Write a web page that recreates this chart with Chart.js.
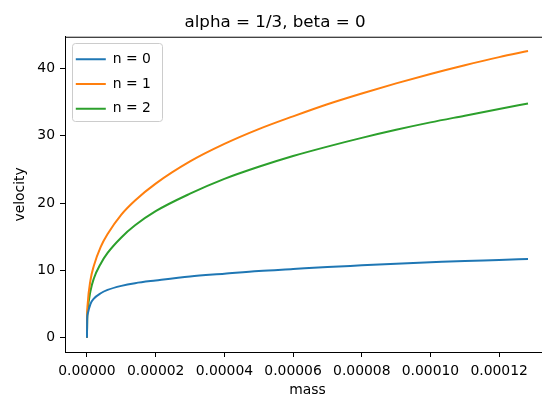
<!DOCTYPE html>
<html>
<head>
<meta charset="utf-8">
<script src="https://cdn.jsdelivr.net/npm/chart.js@4"></script>
<style>
	html, body { margin: 0; padding: 0; background: #fff; overflow: hidden; }
	#wrap { width: 615px; height: 400px; }
</style>
</head>
<body>
<div id="wrap"><canvas id="velocityChart" width="615" height="400"></canvas></div>
<script>
// 그림에서 읽은 값
const mass = [0, 0.00000005, 0.0000002, 0.000001, 0.000002, 0.000004, 0.000006, 0.00001, 0.000014, 0.00002,
	0.00003, 0.00004, 0.00005, 0.00006, 0.00007, 0.00008, 0.00009, 0.0001, 0.00011, 0.00012, 0.0001284];
const velocityN0 = [0, 2.6, 3.5, 5.0, 5.8, 6.6, 7.1, 7.7, 8.1, 8.5,
	9.1, 9.5, 9.9, 10.2, 10.5, 10.75, 11.0, 11.2, 11.4, 11.55, 11.7];
const velocityN1 = [0, 3.2, 5.0, 8.5, 10.7, 13.5, 15.4, 18.3, 20.4, 22.9,
	26.2, 28.8, 31.0, 32.9, 34.7, 36.3, 37.8, 39.2, 40.5, 41.7, 42.6];
const velocityN2 = [0, 2.6, 4.0, 6.9, 8.8, 11.0, 12.6, 14.9, 16.7, 18.8,
	21.4, 23.6, 25.4, 27.0, 28.4, 29.7, 30.9, 32.0, 33.0, 34.0, 34.8];
const seriesLabels = ["n = 0", "n = 1", "n = 2"];
const xTicks = [0, 0.00002, 0.00004, 0.00006, 0.00008, 0.0001, 0.00012];
const yTicks = [0, 10, 20, 30, 40];

const colors = ["#1f77b4", "#ff7f0e", "#2ca02c"];

Chart.defaults.font.family = "'DejaVu Sans', sans-serif";
Chart.defaults.color = "#000";

function toPoints(ys) {
	return mass.map((m, i) => ({x: m, y: ys[i]}));
}

let datasets = [velocityN0, velocityN1, velocityN2].map((ys, i) => ({
	label: seriesLabels[i],
	data: toPoints(ys),
	borderColor: colors[i],
	backgroundColor: colors[i],
	borderWidth: 2,
	pointRadius: 0,
	cubicInterpolationMode: 'monotone',
	fill: false
}));

// 위, 오른쪽 테두리 + 범례 박스
const framePlugin = {
	id: 'frame',
	beforeDraw(chart) {
		const {ctx} = chart;
		const hb = chart.legend.legendHitBoxes;
		if (hb && hb.length) {
			const x0 = hb[0].left - 4;
			const y0 = hb[0].top - 9;
			const x1 = Math.max(...hb.map(h => h.left + h.width)) + 11;
			const y1 = hb[hb.length - 1].top + hb[hb.length - 1].height + 6;
			ctx.save();
			ctx.beginPath();
			ctx.roundRect(Math.round(x0) + 0.5, Math.round(y0) + 0.5, Math.round(x1 - x0), Math.round(y1 - y0), 3);
			ctx.fillStyle = 'rgba(255,255,255,0.8)';
			ctx.fill();
			ctx.strokeStyle = '#cccccc';
			ctx.lineWidth = 1;
			ctx.stroke();
			ctx.restore();
		}
	},
	afterDraw(chart) {
		const {ctx, chartArea: {left, top, right, bottom}} = chart;
		ctx.save();
		ctx.strokeStyle = '#000';
		ctx.lineWidth = 1;
		ctx.beginPath();
		ctx.moveTo(left, top + 0.5);
		ctx.lineTo(right, top + 0.5);
		ctx.lineTo(right - 0.5, bottom);
		ctx.stroke();
		ctx.restore();
	}
};

let ctx = document.getElementById('velocityChart').getContext('2d');
let velocityChart = new Chart(ctx, {
	type: 'line',
	data: { datasets: datasets },
	options: {
		responsive: false,
		animation: false,
		layout: { padding: { left: 0, right: 65, top: 0, bottom: 0 } },
		plugins: {
			title: {
				display: true,
				text: 'alpha = 1/3, beta = 0',
				color: '#000',
				font: { size: 16.7, weight: 'normal' },
				padding: { top: 12.7, bottom: 4 }
			},
			legend: {
				position: 'chartArea',
				align: 'start',
				// chartArea 범례는 top 이 0 으로 잡혀서 빈 제목으로 아래로 내림
				title: {
					display: true,
					text: ' ',
					font: { size: 4, lineHeight: 1 },
					padding: { top: 0, bottom: 37.6 }
				},
				labels: {
					boxWidth: 30,
					boxHeight: 2,
					padding: 10.8,
					color: '#000',
					font: { size: 13.9 },
					generateLabels(chart) {
						return chart.data.datasets.map((ds, i) => ({
							text: ds.label,
							fillStyle: ds.borderColor,
							strokeStyle: ds.borderColor,
							lineWidth: 0,
							hidden: false,
							datasetIndex: i
						}));
					}
				}
			},
			tooltip: { enabled: false }
		},
		scales: {
			x: {
				type: 'linear',
				min: -0.0000064,
				max: 0.0001348,
				afterFit(scale) { scale.height = 48; },
				afterBuildTicks(scale) { scale.ticks = xTicks.map(v => ({value: v})); },
				grid: { drawOnChartArea: false, drawTicks: true, tickLength: 5, color: '#000', lineWidth: 1 },
				border: { color: '#000', width: 1 },
				ticks: {
					font: { size: 13.9 },
					padding: 6,
					maxRotation: 0,
					color: '#000',
					callback: v => Number(v).toFixed(5)
				},
				title: {
					display: true,
					text: 'mass',
					color: '#000',
					font: { size: 13.9 },
					padding: { top: 0, bottom: 1.7 }
				}
			},
			y: {
				type: 'linear',
				min: -2.13,
				max: 44.73,
				afterFit(scale) { scale.width = 65; },
				afterBuildTicks(scale) { scale.ticks = yTicks.map(v => ({value: v})); },
				grid: { drawOnChartArea: false, drawTicks: true, tickLength: 5, color: '#000', lineWidth: 1 },
				border: { color: '#000', width: 1 },
				ticks: {
					font: { size: 13.9 },
					padding: 5,
					color: '#000',
					callback: v => String(v)
				},
				title: {
					display: true,
					text: 'velocity',
					color: '#000',
					font: { size: 13.9 },
					padding: { top: 11.6, bottom: 0 }
				}
			}
		}
	},
	plugins: [framePlugin]
});
</script>
</body>
</html>
